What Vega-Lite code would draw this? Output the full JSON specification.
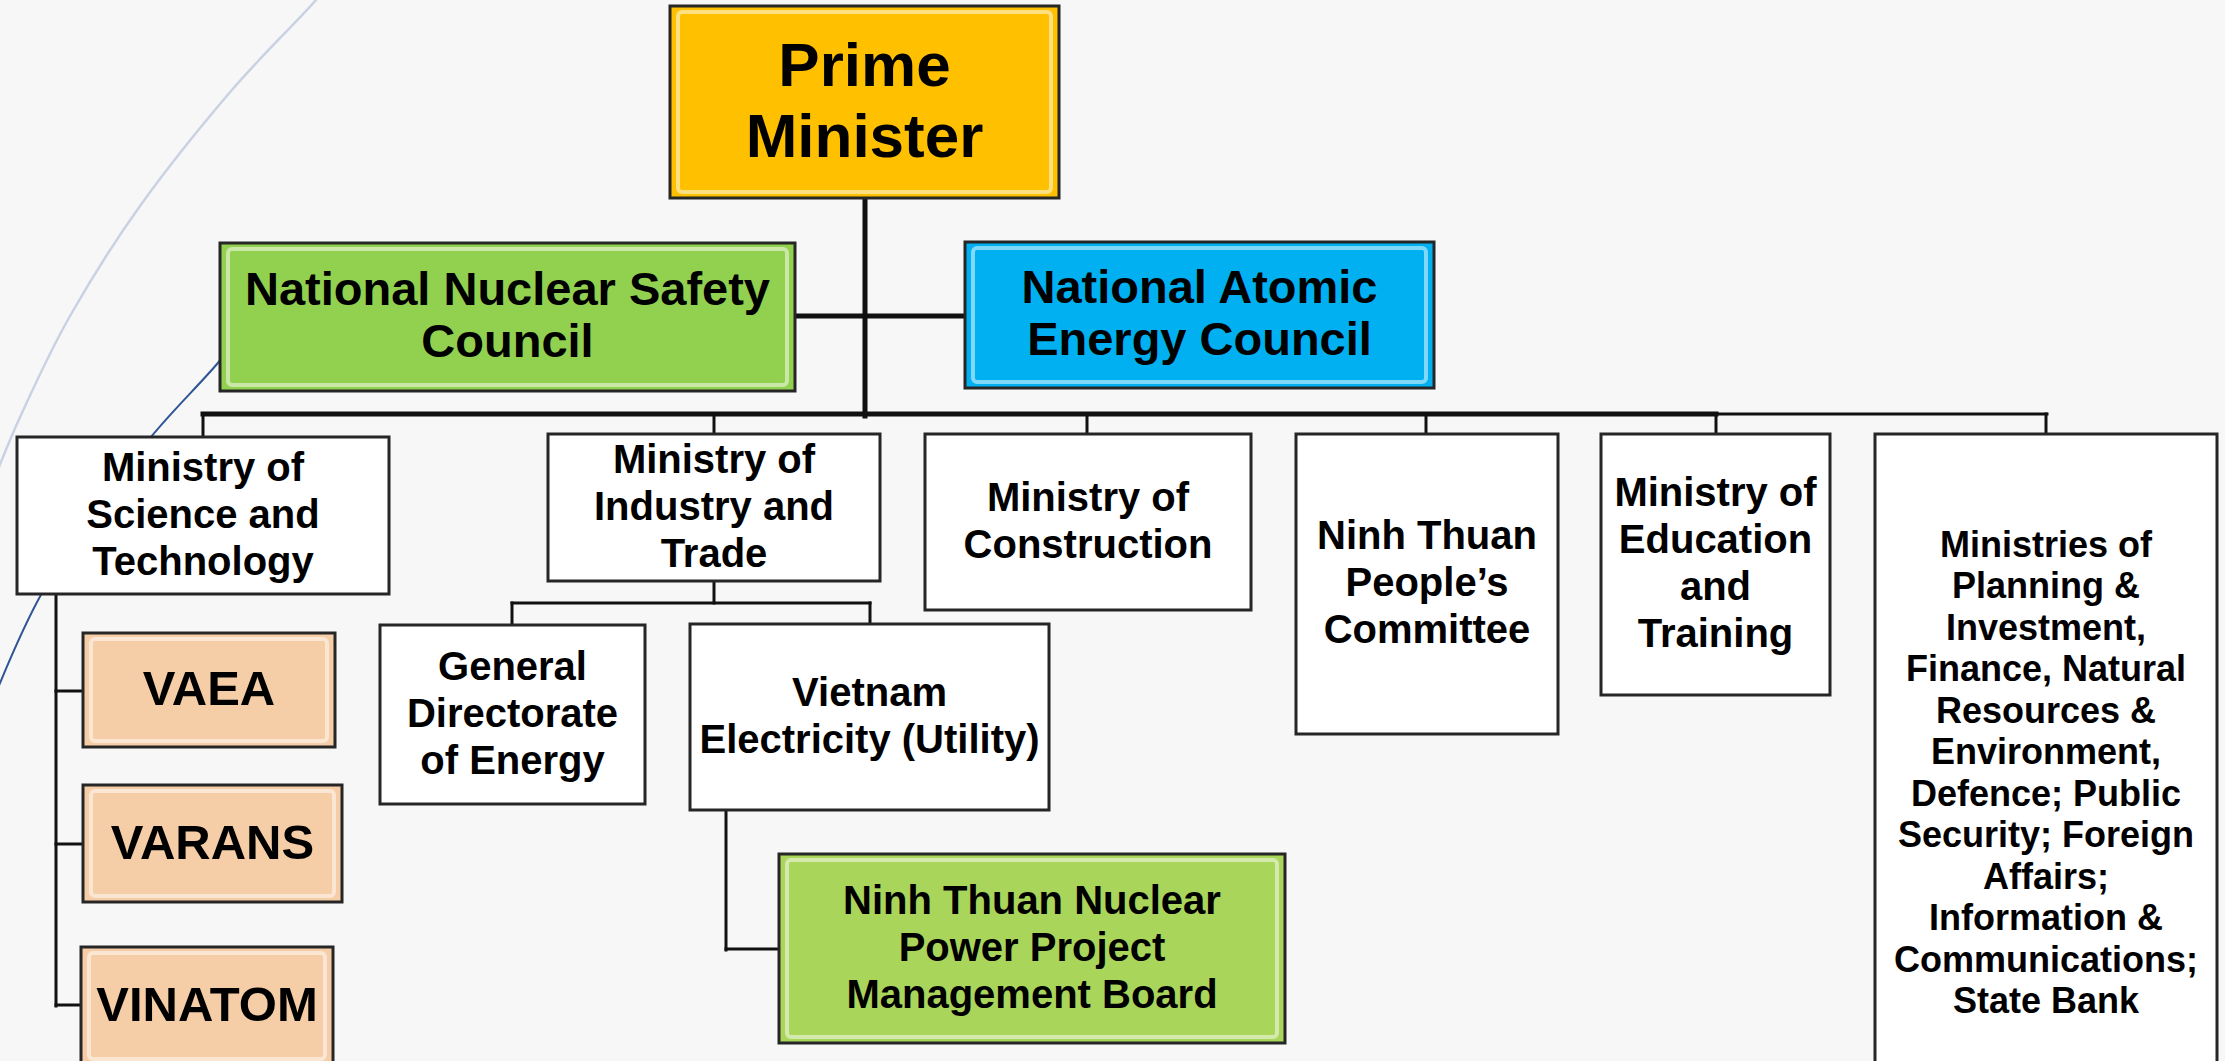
{
  "$schema": "https://vega.github.io/schema/vega-lite/v6.json",
  "autosize": {"type": "fit", "contains": "padding"},
  "width": 2225,
  "height": 1061,
  "padding": 0,
  "background": "#f7f7f7",
  "config": {"view": {"stroke": null}, "text": {"font": "Liberation Sans", "fontWeight": "bold", "color": "#000000"}},
  "datasets": {
    "boxes": [
      {"id": "pm", "x1": 670, "x2": 1059, "y1": 6, "y2": 198, "kind": "pm", "tier": "pm", "label": "Prime\nMinister"},
      {"id": "nnsc", "x1": 220, "x2": 795, "y1": 243, "y2": 391, "kind": "safety", "tier": "council", "label": "National Nuclear Safety\nCouncil"},
      {"id": "naec", "x1": 965, "x2": 1434, "y1": 242, "y2": 388, "kind": "atomic", "tier": "council", "label": "National Atomic\nEnergy Council"},
      {"id": "most", "x1": 17, "x2": 389, "y1": 437, "y2": 594, "kind": "ministry", "tier": "ministry", "label": "Ministry of\nScience and\nTechnology"},
      {"id": "moit", "x1": 548, "x2": 880, "y1": 434, "y2": 581, "kind": "ministry", "tier": "ministry", "label": "Ministry of\nIndustry and\nTrade"},
      {"id": "moc", "x1": 925, "x2": 1251, "y1": 434, "y2": 610, "kind": "ministry", "tier": "ministry", "label": "Ministry of\nConstruction"},
      {"id": "ntpc", "x1": 1296, "x2": 1558, "y1": 434, "y2": 734, "kind": "ministry", "tier": "ministry", "label": "Ninh Thuan\nPeople’s\nCommittee"},
      {"id": "moet", "x1": 1601, "x2": 1830, "y1": 434, "y2": 695, "kind": "ministry", "tier": "ministry", "label": "Ministry of\nEducation\nand\nTraining"},
      {"id": "others", "x1": 1875, "x2": 2217, "y1": 434, "y2": 1115, "kind": "ministry", "tier": "list", "label": "Ministries of\nPlanning &\nInvestment,\nFinance, Natural\nResources &\nEnvironment,\nDefence; Public\nSecurity; Foreign\nAffairs;\nInformation &\nCommunications;\nState Bank"},
      {"id": "gde", "x1": 380, "x2": 645, "y1": 625, "y2": 804, "kind": "ministry", "tier": "ministry", "label": "General\nDirectorate\nof Energy"},
      {"id": "ve", "x1": 690, "x2": 1049, "y1": 624, "y2": 810, "kind": "ministry", "tier": "ministry", "label": "Vietnam\nElectricity (Utility)"},
      {"id": "board", "x1": 779, "x2": 1285, "y1": 854, "y2": 1043, "kind": "board", "tier": "ministry", "label": "Ninh Thuan Nuclear\nPower Project\nManagement Board"},
      {"id": "vaea", "x1": 83, "x2": 335, "y1": 633, "y2": 747, "kind": "agency", "tier": "agency", "label": "VAEA"},
      {"id": "varans", "x1": 83, "x2": 342, "y1": 785, "y2": 902, "kind": "agency", "tier": "agency", "label": "VARANS"},
      {"id": "vinatom", "x1": 81, "x2": 333, "y1": 947, "y2": 1065, "kind": "agency", "tier": "agency", "label": "VINATOM"}
    ],
    "lines": [
      {"x": 865, "y": 198, "x2": 865, "y2": 416, "w": "thick"},
      {"x": 795, "y": 316, "x2": 965, "y2": 316, "w": "thick"},
      {"x": 203, "y": 414, "x2": 1716, "y2": 414, "w": "thick"},
      {"x": 1716, "y": 414, "x2": 2047, "y2": 414, "w": "thin"},
      {"x": 203, "y": 414, "x2": 203, "y2": 437, "w": "thin"},
      {"x": 714, "y": 414, "x2": 714, "y2": 434, "w": "thin"},
      {"x": 1087, "y": 414, "x2": 1087, "y2": 434, "w": "thin"},
      {"x": 1426, "y": 414, "x2": 1426, "y2": 434, "w": "thin"},
      {"x": 1716, "y": 414, "x2": 1716, "y2": 434, "w": "thin"},
      {"x": 2046, "y": 414, "x2": 2046, "y2": 434, "w": "thin"},
      {"x": 714, "y": 581, "x2": 714, "y2": 603, "w": "thin"},
      {"x": 512, "y": 603, "x2": 870, "y2": 603, "w": "thin"},
      {"x": 512, "y": 603, "x2": 512, "y2": 625, "w": "thin"},
      {"x": 870, "y": 603, "x2": 870, "y2": 624, "w": "thin"},
      {"x": 56, "y": 594, "x2": 56, "y2": 1006, "w": "thin"},
      {"x": 56, "y": 691, "x2": 83, "y2": 691, "w": "thin"},
      {"x": 56, "y": 844, "x2": 83, "y2": 844, "w": "thin"},
      {"x": 56, "y": 1005, "x2": 81, "y2": 1005, "w": "thin"},
      {"x": 726, "y": 810, "x2": 726, "y2": 950, "w": "thin"},
      {"x": 726, "y": 949, "x2": 779, "y2": 949, "w": "thin"}
    ],
    "arcs": [
      {"arc": "light", "ord": 1, "x": 330, "y": -25},
      {"arc": "light", "ord": 2, "x": 316, "y": 0},
      {"arc": "light", "ord": 3, "x": 231, "y": 91},
      {"arc": "light", "ord": 4, "x": 140, "y": 206},
      {"arc": "light", "ord": 5, "x": 70, "y": 316},
      {"arc": "light", "ord": 6, "x": 21, "y": 415},
      {"arc": "light", "ord": 7, "x": -10, "y": 490},
      {"arc": "dark", "ord": 1, "x": 250, "y": 320},
      {"arc": "dark", "ord": 2, "x": 217, "y": 364},
      {"arc": "dark", "ord": 3, "x": 151, "y": 437},
      {"arc": "dark", "ord": 4, "x": 95, "y": 515},
      {"arc": "dark", "ord": 5, "x": 42, "y": 593},
      {"arc": "dark", "ord": 6, "x": 0, "y": 683},
      {"arc": "dark", "ord": 7, "x": -15, "y": 730}
    ]
  },
  "resolve": {"scale": {"color": "independent", "stroke": "independent", "strokeWidth": "independent"}},
  "layer": [
    {
      "data": {"name": "arcs"},
      "mark": {"type": "line", "interpolate": "cardinal", "clip": true},
      "encoding": {
        "x": {"field": "x", "type": "quantitative", "scale": {"domain": [0, 2225], "nice": false, "zero": false}, "axis": null},
        "y": {"field": "y", "type": "quantitative", "scale": {"domain": [0, 1061], "nice": false, "zero": false, "reverse": true}, "axis": null},
        "order": {"field": "ord", "type": "quantitative"},
        "detail": {"field": "arc", "type": "nominal"},
        "color": {"field": "arc", "type": "nominal", "scale": {"domain": ["light", "dark"], "range": ["#c9d2e3", "#2f5597"]}, "legend": null},
        "strokeWidth": {"field": "arc", "type": "nominal", "scale": {"domain": ["light", "dark"], "range": [2.5, 2]}, "legend": null}
      }
    },
    {
      "data": {"name": "lines"},
      "mark": {"type": "rule", "color": "#111111", "strokeCap": "square"},
      "encoding": {
        "x": {"field": "x", "type": "quantitative"},
        "x2": {"field": "x2"},
        "y": {"field": "y", "type": "quantitative"},
        "y2": {"field": "y2"},
        "strokeWidth": {"field": "w", "type": "nominal", "scale": {"domain": ["thick", "thin"], "range": [5, 3]}, "legend": null}
      }
    },
    {
      "data": {"name": "boxes"},
      "mark": {"type": "rect", "stroke": "#262626", "strokeWidth": 3, "clip": true},
      "encoding": {
        "x": {"field": "x1", "type": "quantitative"},
        "x2": {"field": "x2"},
        "y": {"field": "y1", "type": "quantitative"},
        "y2": {"field": "y2"},
        "fill": {"field": "kind", "type": "nominal", "scale": {"domain": ["pm", "safety", "atomic", "ministry", "board", "agency"], "range": ["#ffc000", "#92d050", "#00b0f0", "#ffffff", "#a9d55b", "#f5cda6"]}, "legend": null}
      }
    },
    {
      "data": {"name": "boxes"},
      "transform": [{"filter": "datum.kind != 'ministry'"}],
      "mark": {"type": "rect", "fill": null, "stroke": "#ffffff", "strokeOpacity": 0.5, "strokeWidth": 4, "xOffset": 8, "x2Offset": -8, "yOffset": 6, "y2Offset": -6, "cornerRadius": 4, "clip": true},
      "encoding": {
        "x": {"field": "x1", "type": "quantitative"},
        "x2": {"field": "x2"},
        "y": {"field": "y1", "type": "quantitative"},
        "y2": {"field": "y2"}
      }
    },
    {
      "data": {"name": "boxes"},
      "transform": [
        {"filter": "datum.tier == 'pm'"},
        {"calculate": "(datum.x1 + datum.x2) / 2", "as": "cx"},
        {"calculate": "(datum.y1 + datum.y2) / 2 - (split(datum.label, '\\n').length - 1) * 71 / 2", "as": "cy"}
      ],
      "mark": {"type": "text", "fontSize": 62, "lineHeight": 71, "lineBreak": "\n", "align": "center", "baseline": "middle"},
      "encoding": {
        "x": {"field": "cx", "type": "quantitative"},
        "y": {"field": "cy", "type": "quantitative"},
        "text": {"field": "label", "type": "nominal"}
      }
    },
    {
      "data": {"name": "boxes"},
      "transform": [
        {"filter": "datum.tier == 'council'"},
        {"calculate": "(datum.x1 + datum.x2) / 2", "as": "cx"},
        {"calculate": "(datum.y1 + datum.y2) / 2 - (split(datum.label, '\\n').length - 1) * 52 / 2", "as": "cy"}
      ],
      "mark": {"type": "text", "fontSize": 47, "lineHeight": 52, "lineBreak": "\n", "align": "center", "baseline": "middle"},
      "encoding": {
        "x": {"field": "cx", "type": "quantitative"},
        "y": {"field": "cy", "type": "quantitative"},
        "text": {"field": "label", "type": "nominal"}
      }
    },
    {
      "data": {"name": "boxes"},
      "transform": [
        {"filter": "datum.tier == 'ministry'"},
        {"calculate": "(datum.x1 + datum.x2) / 2", "as": "cx"},
        {"calculate": "(datum.y1 + datum.y2) / 2 - (split(datum.label, '\\n').length - 1) * 47 / 2", "as": "cy"}
      ],
      "mark": {"type": "text", "fontSize": 40, "lineHeight": 47, "lineBreak": "\n", "align": "center", "baseline": "middle"},
      "encoding": {
        "x": {"field": "cx", "type": "quantitative"},
        "y": {"field": "cy", "type": "quantitative"},
        "text": {"field": "label", "type": "nominal"}
      }
    },
    {
      "data": {"name": "boxes"},
      "transform": [
        {"filter": "datum.tier == 'list'"},
        {"calculate": "(datum.x1 + datum.x2) / 2", "as": "cx"},
        {"calculate": "774 - (split(datum.label, '\\n').length - 1) * 41.5 / 2", "as": "cy"}
      ],
      "mark": {"type": "text", "fontSize": 36, "lineHeight": 41.5, "lineBreak": "\n", "align": "center", "baseline": "middle"},
      "encoding": {
        "x": {"field": "cx", "type": "quantitative"},
        "y": {"field": "cy", "type": "quantitative"},
        "text": {"field": "label", "type": "nominal"}
      }
    },
    {
      "data": {"name": "boxes"},
      "transform": [
        {"filter": "datum.tier == 'agency'"},
        {"calculate": "(datum.x1 + datum.x2) / 2", "as": "cx"},
        {"calculate": "(datum.y1 + datum.y2) / 2", "as": "cy"}
      ],
      "mark": {"type": "text", "fontSize": 49, "align": "center", "baseline": "middle"},
      "encoding": {
        "x": {"field": "cx", "type": "quantitative"},
        "y": {"field": "cy", "type": "quantitative"},
        "text": {"field": "label", "type": "nominal"}
      }
    }
  ]
}
